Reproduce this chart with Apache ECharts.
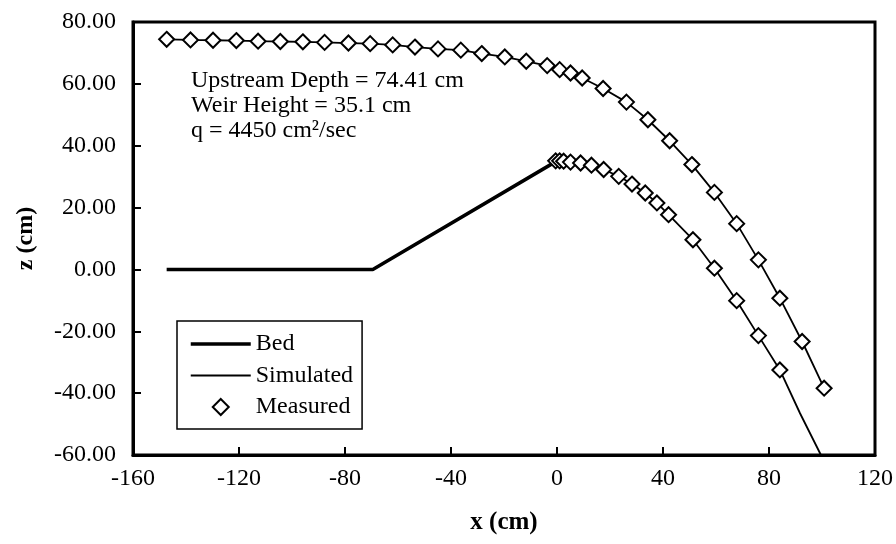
<!DOCTYPE html>
<html>
<head>
<meta charset="utf-8">
<script src="https://cdn.jsdelivr.net/npm/echarts@6/dist/echarts.min.js"></script>
<style>
  html, body { margin: 0; padding: 0; background: #fff; }
  #chart { width: 896px; height: 544px; }
</style>
</head>
<body>
<div id="chart"></div>
<script>
// ---- Data ----
const xTicks = [-160, -120, -80, -40, 0, 40, 80, 120];
const zTicks = [-60, -40, -20, 0, 20, 40, 60, 80];

// Bed profile (x, z in cm)
const bedX = [-147.3, -69.5, 0.0];
const bedZ = [0.0, 0.0, 35.1];

// Measured upper nappe (free surface)
const upperMeasX = [-147.3, -138.3, -129.8, -121.0, -112.8, -104.4, -95.9, -87.7, -78.7, -70.5, -62.0, -53.6, -44.9,
  -36.3, -28.4, -19.7, -11.6, -3.7, 1.0, 5.1, 9.5, 17.4, 26.2, 34.3, 42.5, 50.9, 59.4, 67.8, 76.0, 84.1, 92.5, 100.8];
const upperMeasZ = [74.4, 74.2, 74.1, 74.0, 73.8, 73.7, 73.6, 73.4, 73.2, 73.0, 72.6, 71.9, 71.3,
  70.9, 69.8, 68.7, 67.3, 65.9, 64.6, 63.5, 61.9, 58.5, 54.1, 48.4, 41.6, 33.9, 24.9, 14.8, 3.1, -9.3, -23.3, -38.4];

// Measured lower nappe
const lowerMeasX = [-0.5, 1.0, 2.5, 5.1, 8.9, 13.0, 17.6, 23.3, 28.3, 33.3, 37.7, 42.1, 51.3, 59.4, 67.8, 76.0, 84.1];
const lowerMeasZ = [35.1, 35.1, 35.0, 34.7, 34.4, 33.7, 32.3, 30.1, 27.6, 24.7, 21.5, 17.7, 9.6, 0.4, -10.1, -21.4, -32.5];

// Simulated profiles
const upperSimX = [-147.3, -138.3, -129.8, -121.0, -112.8, -104.4, -95.9, -87.7, -78.7, -70.5, -62.0, -53.6, -44.9,
  -36.3, -28.4, -19.7, -11.6, -3.7, 1.0, 5.1, 9.5, 17.4, 26.2, 34.3, 42.5, 50.9, 59.4, 67.8, 76.0, 84.1, 92.5, 100.8];
const upperSimZ = [74.4, 74.2, 74.1, 74.0, 73.8, 73.7, 73.6, 73.4, 73.2, 73.0, 72.6, 71.9, 71.3,
  70.9, 69.8, 68.7, 67.3, 65.9, 64.6, 63.5, 61.9, 58.5, 54.1, 48.4, 41.6, 33.9, 24.9, 14.8, 3.1, -9.3, -23.3, -38.4];
const lowerSimX = [0.0, 5.1, 8.9, 13.0, 17.6, 23.3, 28.3, 33.3, 37.7, 42.1, 51.3, 59.4, 67.8, 76.0, 84.1, 91.7, 99.6];
const lowerSimZ = [35.1, 34.7, 34.4, 33.7, 32.3, 30.1, 27.6, 24.7, 21.5, 17.7, 9.6, 0.4, -10.1, -21.4, -32.5, -46.5, -60.0];

const annotationLines = ['Upstream Depth = 74.41 cm', 'Weir Height = 35.1 cm', 'q = 4450 cm\u00B2/sec'];

function pairs(xs, ys) { return xs.map((x, i) => [x, ys[i]]); }

const FONT = '"Liberation Serif", "Times New Roman", serif';

const chart = echarts.init(document.getElementById('chart'), null, { renderer: 'canvas' });

const option = {
  backgroundColor: '#ffffff',
  animation: false,
  grid: {
    left: 133, right: 18, top: 22, bottom: 89,
    show: true, borderColor: '#000', borderWidth: 3, backgroundColor: 'transparent'
  },
  xAxis: {
    type: 'value', min: xTicks[0], max: xTicks[xTicks.length - 1], interval: 40,
    name: 'x (cm)', nameLocation: 'middle', nameGap: 55,
    nameTextStyle: { fontFamily: FONT, fontWeight: 'bold', fontSize: 25, color: '#000' },
    axisLine: { show: true, onZero: false, lineStyle: { color: '#000', width: 3 } },
    axisTick: { show: true, inside: true, length: 8, lineStyle: { color: '#000', width: 2 } },
    axisLabel: { color: '#000', fontFamily: FONT, fontSize: 24, margin: 12 },
    splitLine: { show: false }
  },
  yAxis: {
    type: 'value', min: zTicks[0], max: zTicks[zTicks.length - 1], interval: 20,
    name: 'z (cm)', nameLocation: 'middle', nameGap: 95, nameRotate: 90,
    nameTextStyle: { fontFamily: FONT, fontWeight: 'bold', fontSize: 24, color: '#000' },
    axisLine: { show: true, onZero: false, lineStyle: { color: '#000', width: 3 } },
    axisTick: { show: true, inside: true, length: 8, lineStyle: { color: '#000', width: 2 } },
    axisLabel: { color: '#000', fontFamily: FONT, fontSize: 24, margin: 17, formatter: v => v.toFixed(2) },
    splitLine: { show: false }
  },
  legend: {
    orient: 'vertical', left: 177, top: 321,
    itemWidth: 60, itemHeight: 20, itemGap: 7.5,
    padding: [11, 9, 10, 12],
    backgroundColor: '#fff', borderColor: '#000', borderWidth: 1.5,
    textStyle: { fontFamily: FONT, fontSize: 24, color: '#000', lineHeight: 20, padding: [0, 0, 0, 0] },
    data: [
      { name: 'Bed', itemStyle: { opacity: 0 }, lineStyle: { width: 3.5, color: '#000' } },
      { name: 'Simulated', itemStyle: { opacity: 0 }, lineStyle: { width: 1.8, color: '#000' } },
      { name: 'Measured' }
    ],
    selectedMode: false
  },
  graphic: [{
    type: 'text', left: 191, top: 68, z: 10,
    style: { text: annotationLines.join('\n'), font: '24px ' + FONT, fill: '#000', lineHeight: 25 }
  }],
  series: [
    {
      name: 'Bed', type: 'line', data: pairs(bedX, bedZ), showSymbol: false, symbol: 'none',
      lineStyle: { color: '#000', width: 3.5 }, itemStyle: { color: '#000' }, z: 3
    },
    {
      name: 'Simulated', type: 'line', data: pairs(upperSimX, upperSimZ), symbol: 'none', smooth: false,
      lineStyle: { color: '#000', width: 1.8 }, itemStyle: { color: '#000' }, z: 2
    },
    {
      name: 'Simulated', type: 'line', data: pairs(lowerSimX, lowerSimZ), symbol: 'none', smooth: false,
      lineStyle: { color: '#000', width: 1.8 }, itemStyle: { color: '#000' }, z: 2
    },
    {
      name: 'Measured', type: 'line', data: pairs(upperMeasX, upperMeasZ), symbol: 'diamond', symbolSize: 15,
      showAllSymbol: true,
      lineStyle: { opacity: 0, width: 0 },
      itemStyle: { color: '#fff', borderColor: '#000', borderWidth: 2 }, z: 4
    },
    {
      name: 'Measured', type: 'line', data: pairs(lowerMeasX, lowerMeasZ), symbol: 'diamond', symbolSize: 15,
      showAllSymbol: true,
      lineStyle: { opacity: 0, width: 0 },
      itemStyle: { color: '#fff', borderColor: '#000', borderWidth: 2 }, z: 4
    }
  ]
};

chart.setOption(option);
</script>
</body>
</html>
